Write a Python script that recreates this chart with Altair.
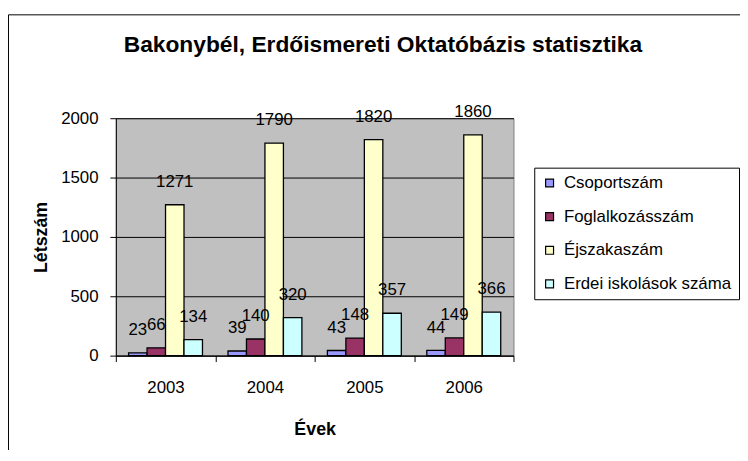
import altair as alt
import pandas as pd

# ---- data ----
years = ["2003", "2004", "2005", "2006"]
series = ["Csoportszám", "Foglalkozásszám", "Éjszakaszám", "Erdei iskolások száma"]
csoportszam = [23, 39, 43, 44]
foglalkozasszam = [66, 140, 148, 149]
ejszakaszam = [1271, 1790, 1820, 1860]
erdei_iskolasok = [134, 320, 357, 366]
colors = ["#9999FF", "#993366", "#FFFFCC", "#CCFFFF"]
y_ticks = [0, 500, 1000, 1500, 2000]
title_text = "Bakonybél, Erdőismereti Oktatóbázis statisztika"

rows = []
for s, vals in zip(series, [csoportszam, foglalkozasszam, ejszakaszam, erdei_iskolasok]):
    for yr, v in zip(years, vals):
        rows.append({"Év": yr, "Sorozat": s, "Érték": v})
df = pd.DataFrame(rows)

FONT = "Liberation Sans"
W, H = 402, 240

x_enc = alt.X(
    "Év:N",
    title="Évek",
    sort=years,
    scale=alt.Scale(type="band", paddingInner=0, paddingOuter=0),
    axis=alt.Axis(
        labelAngle=0, tickBand="extent", tickSize=6, tickColor="black",
        domainColor="black", labelFont=FONT, labelFontSize=17, labelColor="black",
        labelPadding=18, titleFont=FONT, titleFontSize=18, titleFontWeight="bold",
        titleColor="black", titleY=80, titleBaseline="alphabetic", grid=False,
    ),
)
xoff = alt.XOffset(
    "Sorozat:N", sort=series,
    scale=alt.Scale(paddingInner=0, paddingOuter=0.69),
)
y_enc = alt.Y(
    "Érték:Q",
    title="Létszám",
    scale=alt.Scale(domain=[0, 2000], nice=False),
    axis=alt.Axis(
        values=y_ticks, format="d", tickSize=6, tickColor="black", domainColor="black",
        labelFont=FONT, labelFontSize=17, labelColor="black", labelPadding=12,
        titleFont=FONT, titleFontSize=18, titleFontWeight="bold", titleColor="black",
        titleAngle=-90, titleX=-70, titleY=120, titleAlign="center",
        titleBaseline="alphabetic",
        grid=True, gridColor="black", gridWidth=1, gridOpacity=1,
    ),
)

base = alt.Chart(df)

bars = base.mark_bar(stroke="black", strokeWidth=1.3).encode(
    x=x_enc,
    xOffset=xoff,
    y=y_enc,
    color=alt.Color(
        "Sorozat:N",
        sort=series,
        scale=alt.Scale(domain=series, range=colors),
        legend=alt.Legend(
            title=None, orient="none", legendX=423, legendY=50,
            fillColor="white", strokeColor="black", padding=7, rowPadding=16,
            symbolType="square", symbolSize=64, symbolStrokeColor="black",
            symbolStrokeWidth=1.2, labelFont=FONT, labelFontSize=17,
            labelColor="black", labelLimit=400, labelOffset=6,
        ),
    ),
)

labels = base.mark_text(
    baseline="alphabetic", dy=-18, font=FONT, fontSize=17, color="black"
).encode(
    x=x_enc,
    xOffset=xoff,
    y=y_enc,
    text=alt.Text("Érték:Q"),
)

frame = alt.Chart(pd.DataFrame({"f": [0]})).mark_rect(
    filled=False, stroke="black", strokeWidth=1
).encode(
    x=alt.value(-108.5), x2=alt.value(700), y=alt.value(-104.5), y2=alt.value(400)
)

title = alt.Chart(pd.DataFrame({"t": [title_text]})).mark_text(
    font=FONT, fontSize=23, fontWeight="bold", color="black",
    align="center", baseline="alphabetic",
).encode(text="t:N", x=alt.value(270), y=alt.value(-67))

chart = alt.layer(frame, bars, labels, title).properties(
    width=W, height=H,
    autosize=alt.AutoSizeParams(type="none"),
    padding={"left": 109, "top": 109, "right": 229, "bottom": 93},
    background="white",
).configure_view(
    fill="#C0C0C0", stroke="#808080", strokeWidth=1
)

chart.save("out.html", embed_options={"renderer": "svg", "actions": False})
